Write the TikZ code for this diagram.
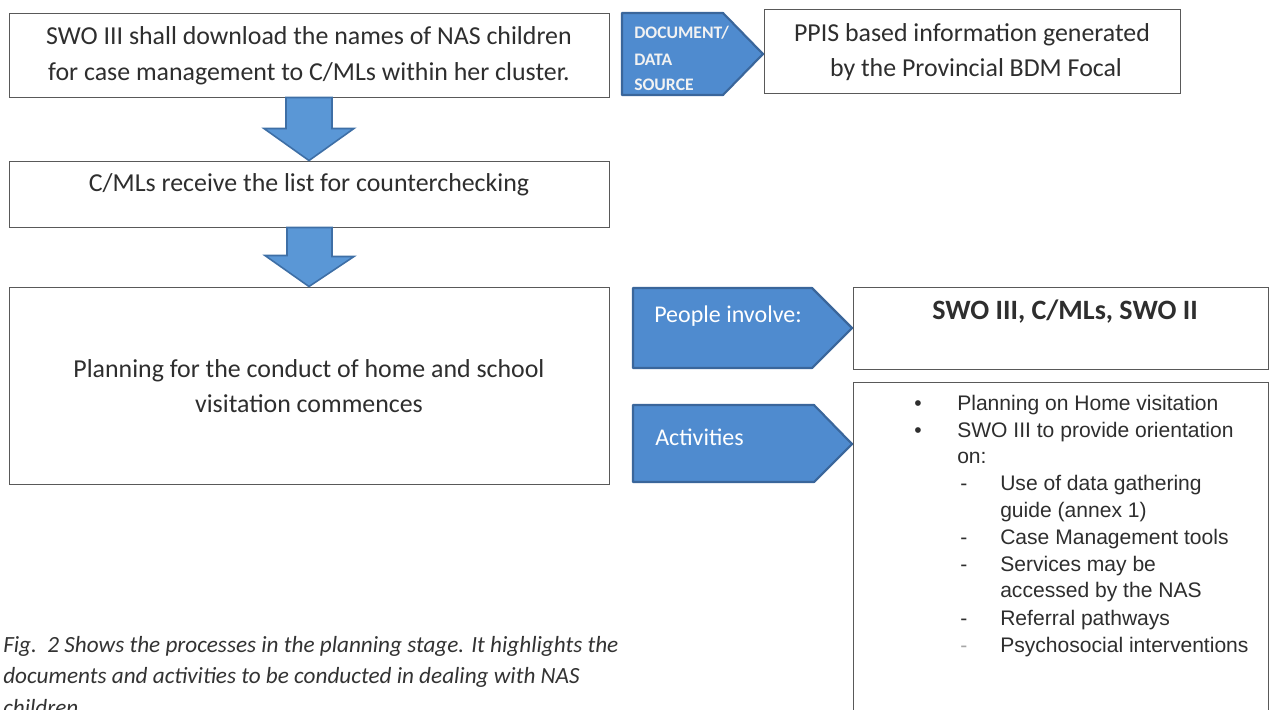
\documentclass[tikz,border=0pt]{standalone}
\usepackage{fontspec}
\setmainfont{Carlito}
\newfontfamily\arialfont{Liberation Sans}
\definecolor{arrowfill}{HTML}{5A97D6}
\definecolor{arrowedge}{HTML}{3E6FA6}
\definecolor{tagfill}{HTML}{4F8BCF}
\definecolor{tagedge}{HTML}{3A669B}
\definecolor{ink}{HTML}{2E2E2E}
\begin{document}
\begin{tikzpicture}[x=0.75pt,y=-0.75pt,
  box/.style={draw=black!65, line width=0.7pt, inner sep=0pt},
  boxtext/.style={anchor=base, inner sep=0pt, text=ink, font=\fontsize{19.4}{24}\selectfont},
  blockarrow/.style={fill=arrowfill, draw=arrowedge, line width=1.2pt, line join=miter},
  tag/.style={fill=tagfill, draw=tagedge, line width=1.6pt, line join=round},
  tagtext/.style={anchor=base west, inner sep=0pt, text=white, font=\fontsize{18}{22}\selectfont},
  doctext/.style={anchor=base west, inner sep=0pt, text=white!95!black, font=\bfseries\fontsize{13.2}{16}\selectfont},
  listtext/.style={anchor=base west, inner sep=0pt, text=black!82, font=\arialfont\fontsize{15.8}{20}\selectfont},
  captext/.style={anchor=base west, inner sep=0pt, text=black!80, font=\itshape\fontsize{17.4}{22}\selectfont},
]
\useasboundingbox (0,0) rectangle (1272,710);
\clip (0,0) rectangle (1272,710);
\fill[white] (0,0) rectangle (1272,710);

% process boxes on the left
\node[box, minimum width=450pt, minimum height=63pt] (b1) at (309,55) {};
\node[box, minimum width=450pt, minimum height=49.5pt] (b2) at (309,194) {};
\node[box, minimum width=450pt, minimum height=147.75pt] (b3) at (309,385.5) {};

\node[boxtext] (b1l1) at (309,45) {SWO III shall download the names of NAS children};
\node[boxtext] (b1l2) at (309,81) {for case management to C/MLs within her cluster.};
\node[boxtext] (b2l1) at (309,191) {C/MLs receive the list for counterchecking};
\node[boxtext] (b3l1) at (309,377) {Planning for the conduct of home and school};
\node[boxtext] (b3l2) at (309,412) {visitation commences};

% block arrows between the process boxes
\draw[blockarrow] (b2.north) -- ++(-45,-32) -- ++(22,0) |- ([xshift=-23*0.75pt]b1.south)
  -- ([xshift=23*0.75pt]b1.south) -- ++(0,31) -- ++(22,0) -- cycle;
\draw[blockarrow] (b3.north) -- ++(-44,-31) -- ++(22,0) |- ([xshift=-23*0.75pt]b2.south)
  -- ([xshift=23*0.75pt]b2.south) -- ++(0,29) -- ++(22,0) -- cycle;

% information boxes on the right
\node[box, minimum width=312pt, minimum height=63pt] (ppis) at (972,51) {};
\node[box, minimum width=311.25pt, minimum height=61.5pt] (ppl) at (1060.5,328) {};
\node[box, minimum width=311.25pt, minimum height=261pt] (acts) at (1060.5,556) {};

\node[boxtext] (ppis1) at (972,42) {PPIS based information generated};
\node[boxtext] (ppis2) at (976,77) {by the Provincial BDM Focal};
\node[boxtext, font=\bfseries\fontsize{21}{26}\selectfont] (pplt) at (1065,319) {SWO III, C/MLs, SWO II};

% label tags pointing at the information boxes
\coordinate (dtip) at (763,54);
\draw[tag] (dtip) -- (723,13) -- (622,13) -- (622,95) -- (723,95) -- cycle;
\node[doctext] (dt1) at (634,39) {DOCUMENT/};
\node[doctext] (dt2) at (634,66) {DATA};
\node[doctext] (dt3) at (634,91) {SOURCE};

\coordinate (ptip) at (852,328);
\draw[tag] (ptip) -- (812,288) -- (633,288) -- (633,368) -- (812,368) -- cycle;
\node[tagtext] (pt) at (654,322) {People involve:};

\coordinate (atip) at (852,444);
\draw[tag] (atip) -- (814,405) -- (633,405) -- (633,482) -- (814,482) -- cycle;
\node[tagtext] (at) at (655,445) {Activities};

% activities list
\node[listtext] (m1) at (914,410) {•};
\node[listtext] (t1) at (957,410) {Planning on Home visitation};
\node[listtext] (m2) at (914,437) {•};
\node[listtext] (t2) at (957,437) {SWO III to provide orientation};
\node[listtext] (t3) at (957,463) {on:};
\node[listtext] (d1) at (960,490) {-};
\node[listtext] (s1) at (1000,490) {Use of data gathering};
\node[listtext] (s1b) at (1000,517) {guide (annex 1)};
\node[listtext] (d2) at (960,544) {-};
\node[listtext] (s2) at (1000,544) {Case Management tools};
\node[listtext] (d3) at (960,571) {-};
\node[listtext] (s3) at (1000,571) {Services may be};
\node[listtext] (s3b) at (1000,597) {accessed by the NAS};
\node[listtext] (d4) at (960,625) {-};
\node[listtext] (s4) at (1000,625) {Referral pathways};
\node[listtext, text=black!35] (d5) at (960,652) {-};
\node[listtext] (s5) at (1000,652) {Psychosocial interventions};

% figure caption
\node[captext] (c1) at (3,652) {Fig.\ \ 2 Shows the processes in the planning stage. It highlights the};
\node[captext] (c2) at (3,683) {documents and activities to be conducted in dealing with NAS};
\node[captext] (c3) at (3,715) {children};
\end{tikzpicture}
\end{document}
